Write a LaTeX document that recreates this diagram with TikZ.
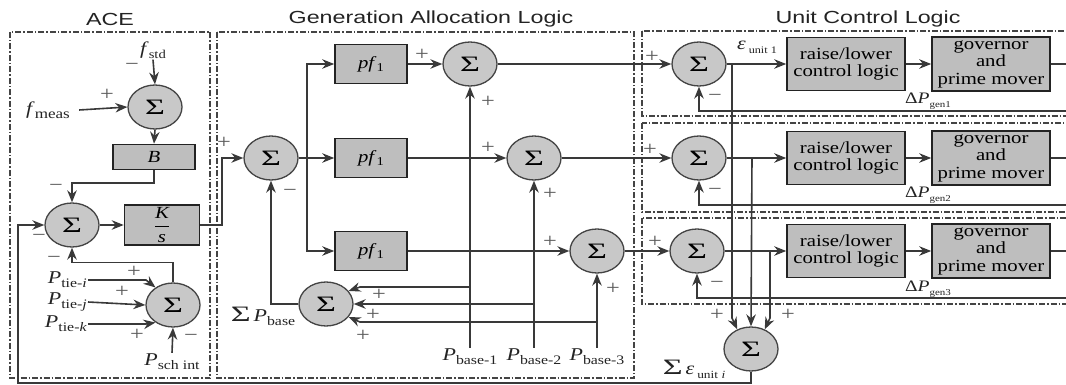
\documentclass[tikz,border=0pt]{standalone}
\usepackage{fontspec}
\setmainfont[FakeStretch=1.22]{Liberation Serif}
\newfontfamily\titlefont[FakeStretch=1.33]{Liberation Sans}
\newfontfamily\sigfont[FakeStretch=1.55]{Liberation Serif}
\usetikzlibrary{shapes.geometric,arrows.meta}
\definecolor{boxgray}{RGB}{190,190,190}
\definecolor{sumgray}{RGB}{200,200,200}
\definecolor{ink}{RGB}{35,35,35}
\newcommand{\Sg}{{\sigfont\fontsize{22}{22}\selectfont Σ}}
\newcommand{\sub}[2][13]{\raisebox{-0.5ex}{\fontsize{#1}{#1}\selectfont #2}}
\newcommand{\var}[3][13]{\textit{#2}\sub[#1]{#3}}
\tikzset{
 sumnode/.style={ellipse, draw=ink!85, fill=sumgray, line width=1.3pt, minimum width=54pt, minimum height=44pt, inner sep=0pt, font=\sigfont\fontsize{22}{22}\selectfont},
 blk/.style={rectangle, draw=ink, fill=boxgray, line width=1.6pt, inner sep=0pt, align=center, font=\fontsize{17}{17.5}\selectfont},
 lbl/.style={inner sep=1pt, font=\fontsize{18}{18}\selectfont, text=ink},
 sgn/.style={inner sep=0pt, font=\fontsize{20}{20}\selectfont, text=ink!75},
 wire/.style={draw=ink!90, line width=1.6pt},
 arr/.style={wire, -{Stealth[length=12pt,width=9.5pt]}},
 frame/.style={draw=ink!85, line width=1.1pt, dash pattern=on 6pt off 2pt on 1.5pt off 2pt},
 ttl/.style={font=\titlefont\fontsize{17.5}{18}\selectfont, text=ink, inner sep=0pt},
}
\begin{document}
\begin{tikzpicture}[x=1pt,y=-1pt]
\clip (0,0) rectangle (1066,385);
% frames
\draw[frame] (10,32) rectangle (210,378);
\draw[frame] (217,32) rectangle (634,378);
\draw[frame] (642,31) rectangle (1090,116);
\draw[frame] (642,123) rectangle (1090,212);
\draw[frame] (642,218) rectangle (1090,304);
% titles
\node[ttl] (tace) at (110,19) {ACE};
\node[ttl] (tgal) at (431,19) {Generation Allocation Logic};
\node[ttl] (tucl) at (868,19) {Unit Control Logic};
% ---------------- ACE ----------------
\node[lbl] (fstd) at (153,50) {\var[12]{f}{std}};
\node[sumnode] (a1) at (155,107) {Σ};
\node[lbl] (fmeas) at (48,110) {\var[14]{f}{meas}};
\node[blk, minimum width=82pt, minimum height=25pt] (bb) at (154,157) {\textit{B}};
\node[sumnode] (a2) at (72,225) {Σ};
\node[blk, minimum width=75pt, minimum height=40pt] (ks) at (162,225) {$\displaystyle\frac{\textit{K}}{\textit{s}}$};
\node[sumnode] (a3) at (173,305) {Σ};
\node[lbl, anchor=east] (pti) at (88,280) {\var{P}{tie-\textit{i}}};
\node[lbl, anchor=east] (ptj) at (88,302) {\var{P}{tie-\textit{j}}};
\node[lbl, anchor=east] (ptk) at (88,324) {\var{P}{tie-\textit{k}}};
\node[lbl] (psch) at (172,362) {\var{P}{sch int}};
\draw[arr] (fstd.south) -- (a1.north);
\draw[arr] ([xshift=8pt]fmeas.east) -- (a1.west);
\draw[arr] (a1.south) -- (bb.north);
\draw[arr] (bb.south) -- ++(0,13) -| (a2.north);
\draw[arr] (a2.east) -- (ks.west);
\draw[arr] (a3.north) -- ++(0,-20) -| (a2.south);
\draw[arr] (pti.east) -- (146,280) -- (a3.135);
\draw[arr] (ptj.east) -- (a3.west);
\draw[arr] (ptk.east) -- (146,324) -- (a3.225);
\draw[arr] (psch.north) -- (a3.south);
\node[sgn] (s1) at (132,67) {−};
\node[sgn] (s2) at (107,95) {+};
\node[sgn] (s3) at (56,188) {−};
\node[sgn] (s4) at (39,238) {−};
\node[sgn] (s5) at (54,260) {−};
\node[sgn] (s6) at (134,272) {+};
\node[sgn] (s7) at (122,292) {+};
\node[sgn] (s8) at (137,335) {+};
\node[sgn] (s9) at (191,338) {−};
% ---------------- GAL ----------------
\node[sumnode] (g0) at (271,158) {Σ};
\node[blk, minimum width=72pt, minimum height=39pt] (pa) at (371,64) {\var[12]{pf}{1}};
\node[blk, minimum width=72pt, minimum height=39pt] (pb) at (371,158) {\var[12]{pf}{1}};
\node[blk, minimum width=72pt, minimum height=39pt] (pc) at (371,251) {\var[12]{pf}{1}};
\coordinate (br) at (307,158);
\draw[arr] (ks.east) -- (222,225) |- (g0.west);
\draw[wire] (g0.east) -- (br);
\draw[arr] (br) |- (pa.west);
\draw[arr] (br) -- (pb.west);
\draw[arr] (br) |- (pc.west);
\node[sumnode] (sa) at (470,64) {Σ};
\node[sumnode] (sb) at (534,158) {Σ};
\node[sumnode] (sc) at (597,251) {Σ};
\draw[arr] (pa.east) -- (sa.west);
\draw[arr] (pb.east) -- (sb.west);
\draw[arr] (pc.east) -- (sc.west);
\node[lbl] (pb1) at (470,357) {\var{P}{base-1}};
\node[lbl] (pb2) at (534,357) {\var{P}{base-2}};
\node[lbl] (pb3) at (597,357) {\var{P}{base-3}};
\draw[arr] (pb1.north) -- (sa.south);
\draw[arr] (pb2.north) -- (sb.south);
\draw[arr] (pb3.north) -- (sc.south);
\node[sumnode] (ps) at (326,304) {Σ};
\node[lbl] (pslab) at (263,316) {\Sg\,\var{P}{base}};
\draw[arr] (pb1.north |- 0,287) -- (360,287) -- (ps.30);
\draw[arr] (pb2.north |- ps.east) -- (ps.east);
\draw[arr] (pb3.north |- 0,322) -- (360,322) -- (ps.-30);
\draw[arr] (ps.west) -| (g0.south);
\node[sgn] (s10) at (224,143) {+};
\node[sgn] (s11) at (290,193) {−};
\node[sgn] (s12) at (422,55) {+};
\node[sgn] (s13) at (488,102) {+};
\node[sgn] (s14) at (488,148) {+};
\node[sgn] (s15) at (550,194) {+};
\node[sgn] (s16) at (550,242) {+};
\node[sgn] (s17) at (613,289) {+};
\node[sgn] (s18) at (379,295) {+};
\node[sgn] (s19) at (373,315) {+};
\node[sgn] (s20) at (363,336) {+};
% ---------------- Unit control ----------------
\node[sumnode] (u1) at (699,64) {Σ};
\node[sumnode] (u2) at (699,158) {Σ};
\node[sumnode] (u3) at (697,251) {Σ};
\draw[arr] (sa.east) -- (u1.west);
\draw[arr] (sb.east) -- (u2.west);
\draw[arr] (sc.east) -- (u3.west);
\foreach \i/\y in {1/64, 2/158, 3/251}{
  \node[blk, minimum width=118pt, minimum height=53pt] (r\i) at (846,\y) {raise/lower\\control logic};
  \node[blk, minimum width=118pt, minimum height=54pt] (gv\i) at (991,\y) {governor\\and\\prime mover};
  \draw[arr] (u\i.east) -- (r\i.west);
  \draw[arr] (r\i.east) -- (gv\i.west);
}
\draw[arr] (gv1.east) -- (1080,64) -- (1080,111) -| (u1.south);
\draw[arr] (gv2.east) -- (1080,158) -- (1080,205) -| (u2.south);
\draw[arr] (gv3.east) -- (1080,251) -- (1080,298) -| (u3.south);
\node[lbl, font=\fontsize{16}{16}\selectfont] (d1) at (928,101) {Δ\var[9]{P}{gen1}};
\node[lbl, font=\fontsize{16}{16}\selectfont] (d2) at (928,195) {Δ\var[9]{P}{gen2}};
\node[lbl, font=\fontsize{16}{16}\selectfont] (d3) at (928,289) {Δ\var[9]{P}{gen3}};
\node[lbl] (e1) at (757,47) {\textit{ε}\,\sub[10]{unit 1}};
\node[sumnode] (es) at (751,349) {Σ};
\coordinate (k1) at (732,64);
\coordinate (k2) at (752,158);
\coordinate (k3) at (770,251);
\draw[arr] (k1) -- (732,318) -- (es.125);
\draw[arr] (k2) -- (es.north);
\draw[arr] (k3) -- (770,318) -- (es.55);
\draw[arr] (es.south) |- (18,383) |- (a2.west);
\node[lbl] (eslab) at (694,369) {\Sg\,\textit{ε}\,\sub[11]{unit \textit{i}}};
\node[sgn] (s21) at (652,57) {+};
\node[sgn] (s22) at (715,98) {−};
\node[sgn] (s23) at (650,150) {+};
\node[sgn] (s24) at (715,192) {−};
\node[sgn] (s25) at (655,242) {+};
\node[sgn] (s26) at (717,285) {−};
\node[sgn] (s27) at (717,315) {+};
\node[sgn] (s28) at (788,315) {+};
\end{tikzpicture}
\end{document}
